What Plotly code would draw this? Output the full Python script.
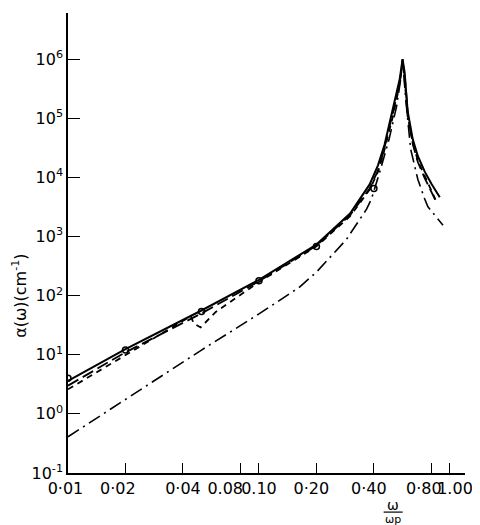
import plotly.graph_objects as go

# ---- data ----
solid_x = [0.01, 0.02, 0.05, 0.10, 0.20, 0.30, 0.38, 0.42, 0.455, 0.50, 0.53, 0.546, 0.565,
           0.579, 0.601, 0.639, 0.679, 0.738, 0.80, 0.885]
solid_y = [3.6, 12.5, 56, 185, 730, 2450, 7600, 16000, 36000, 130000, 290000, 460000, 1000000,
           600000, 130000, 44000, 23000, 12500, 7800, 4600]

ldash_x = [0.01, 0.02, 0.05, 0.10, 0.20, 0.30, 0.38, 0.42, 0.45, 0.50, 0.53, 0.548, 0.565,
           0.582, 0.605, 0.64, 0.68, 0.74, 0.843]
ldash_y = [3.0, 11, 50, 175, 700, 2300, 6500, 13000, 28000, 110000, 250000, 430000, 950000,
           450000, 100000, 36000, 18000, 9500, 4000]

sdash_x = [0.01, 0.02, 0.03, 0.044, 0.0455, 0.0495, 0.0594, 0.10, 0.20, 0.30, 0.38, 0.42, 0.45,
           0.50, 0.53, 0.548, 0.565, 0.58, 0.60, 0.64, 0.68, 0.74, 0.84]
sdash_y = [2.6, 10, 22, 45, 34, 29, 53, 170, 680, 2200, 6200, 12500, 26000,
           100000, 240000, 420000, 900000, 420000, 110000, 38000, 19000, 10500, 4200]

ddot_x = [0.01, 0.02, 0.05, 0.10, 0.162, 0.20, 0.287, 0.366, 0.388, 0.428, 0.48, 0.526, 0.55,
          0.565, 0.587, 0.623, 0.679, 0.738, 0.766, 0.92]
ddot_y = [0.41, 1.75, 12, 49, 137, 250, 890, 2900, 4300, 12000, 44000, 160000, 420000,
          1000000, 210000, 30000, 9300, 4300, 3200, 1550]

circ_x = [0.01, 0.02, 0.05, 0.10, 0.20, 0.40]
circ_y = [4.0, 12, 54, 178, 680, 6500]

NB = "\u00a0"
xtick_vals = [0.01, 0.02, 0.04, 0.08, 0.10, 0.20, 0.40, 0.80, 1.00]
xtick_text = ["0·01" + NB, "0·02" + NB * 3, "0·04", "0.08" + NB * 6, "0.10",
              "0·20" + NB * 2, "0·40" + NB * 2, "0·80" + NB * 3, NB * 2 + "1.00"]
ytick_vals = [0.1, 1, 10, 100, 1000, 1e4, 1e5, 1e6]
ytick_text = ["10<sup>-1</sup>", "10<sup>0</sup>", "10<sup>1</sup>", "10<sup>2</sup>",
              "10<sup>3</sup>", "10<sup>4</sup>", "10<sup>5</sup>", "10<sup>6</sup>"]

fig = go.Figure()
fig.add_trace(go.Scatter(x=solid_x, y=solid_y, mode="lines",
                         line=dict(color="black", width=2)))
fig.add_trace(go.Scatter(x=ldash_x, y=ldash_y, mode="lines",
                         line=dict(color="black", width=1.8, dash="12px,5px")))
fig.add_trace(go.Scatter(x=sdash_x, y=sdash_y, mode="lines",
                         line=dict(color="black", width=1.8, dash="6px,5px")))
fig.add_trace(go.Scatter(x=ddot_x, y=ddot_y, mode="lines",
                         line=dict(color="black", width=1.6, dash="13px,5px,2px,5px")))
fig.add_trace(go.Scatter(x=circ_x, y=circ_y, mode="markers",
                         marker=dict(symbol="circle-open", size=6, color="black", line=dict(width=1.5))))

font = "DejaVu Sans"
# page body has an 8px default margin: figure is 8px smaller so the plot lands where the reference has it
fig.update_layout(
    width=472, height=517,
    margin=dict(l=60, r=15, t=5, b=52, autoexpand=False),
    paper_bgcolor="white", plot_bgcolor="white",
    showlegend=False,
    font=dict(family=font, color="black", size=16),
    xaxis=dict(type="log", range=[-2, 0.079], tickvals=xtick_vals, ticktext=xtick_text,
               tickangle=0, automargin=False,
               ticks="inside", ticklen=10, tickwidth=1.3, tickcolor="black",
               showline=True, linecolor="black", linewidth=1.6, showgrid=False, zeroline=False,
               tickfont=dict(size=16, family=font)),
    yaxis=dict(type="log", range=[-1, 6.78], tickvals=ytick_vals, ticktext=ytick_text,
               automargin=False,
               ticks="inside", ticklen=12, tickwidth=1.3, tickcolor="black",
               showline=True, linecolor="black", linewidth=1.6, showgrid=False, zeroline=False,
               tickfont=dict(size=16, family=font)),
)

fig.add_annotation(text="α(ω)(cm<sup>-1</sup>)", xref="paper", yref="paper",
                   x=-0.121, y=0.385, xanchor="center", yanchor="middle",
                   showarrow=False, textangle=-90,
                   font=dict(size=16, family=font))
fig.add_annotation(text="ω", xref="paper", yref="paper", x=0.819, y=-0.069,
                   xanchor="center", yanchor="middle", showarrow=False,
                   font=dict(size=14, family=font))
fig.add_annotation(text="ωp", xref="paper", yref="paper", x=0.819, y=-0.1,
                   xanchor="center", yanchor="middle", showarrow=False,
                   font=dict(size=11, family=font))
fig.add_shape(type="line", xref="paper", yref="paper", x0=0.795, x1=0.843,
              y0=-0.085, y1=-0.085, line=dict(color="black", width=1.2))

fig.write_html("out.html")
